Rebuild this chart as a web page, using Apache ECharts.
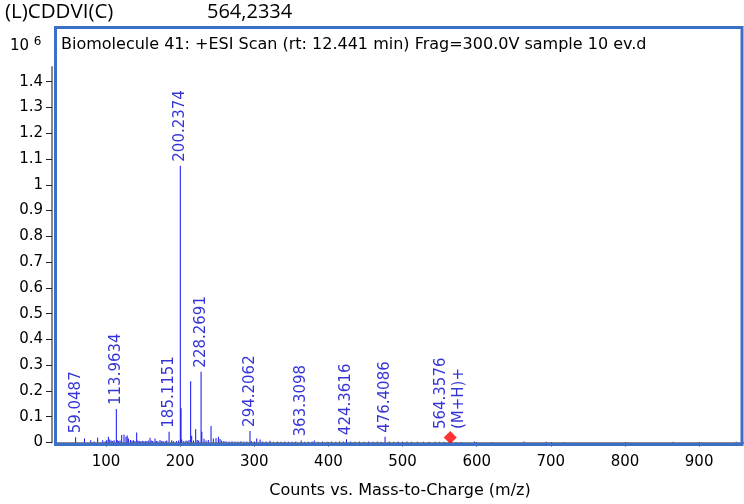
<!DOCTYPE html>
<html>
<head>
<meta charset="utf-8">
<script src="https://cdn.jsdelivr.net/npm/echarts@6/dist/echarts.min.js"></script>
<style>
html,body{margin:0;padding:0;background:#fff;}
#chart{width:744px;height:504px;}
</style>
</head>
<body>
<div id="chart"></div>
<script>
// ---- data (intensity in units of 10^6 counts) ----
const peakMz = [59.05,71.0,79.4,84,88.8,95.6,99,101.1,103.2,105.1,107,109.1,111,113.9634,115.1,117,119,121.2,124.3,127,128.6,130.2,133,135,137,139,141.4,143,145,147,149,151,153,155,157,159.4,161,163,166.1,168,170,172.9,175,177,180,182,185.1151,188.7,191,195,198,200.2374,201.24,202.2,205,208,210,212,214.2,215.6,218,221,223,225,228.2691,229.27,232.2,235,238,241.7,244.8,248.4,251.6,253.8,256,259,262,266,270,274,278,282,286,290,294.2062,296,300,303.3,307.8,311,316,321.2,326,331,336,341,346,351,356,363.3098,368,373,378,381,386,392,398,404,410,415,420,424.3616,430,436,442,448,454,460,466,471,476.4086,482,488,494,500,506,512,520,528,536,544,550,556,564.3576,572,580,597,620,664,694,718,865,950];
const peakIntensity = [0.020,0.016,0.009,0.004,0.018,0.009,0.005,0.010,0.022,0.012,0.008,0.006,0.009,0.130,0.010,0.006,0.008,0.029,0.031,0.022,0.027,0.016,0.010,0.007,0.009,0.006,0.039,0.008,0.006,0.005,0.007,0.005,0.006,0.005,0.008,0.018,0.008,0.006,0.016,0.006,0.005,0.010,0.005,0.006,0.005,0.008,0.042,0.009,0.005,0.006,0.008,1.074,0.133,0.012,0.006,0.008,0.005,0.010,0.238,0.026,0.008,0.052,0.010,0.008,0.275,0.042,0.015,0.008,0.010,0.064,0.016,0.017,0.022,0.014,0.008,0.006,0.005,0.004,0.005,0.004,0.004,0.005,0.004,0.004,0.045,0.006,0.004,0.016,0.012,0.004,0.004,0.007,0.003,0.004,0.003,0.004,0.003,0.003,0.004,0.008,0.003,0.003,0.004,0.008,0.003,0.004,0.003,0.004,0.003,0.004,0.004,0.013,0.004,0.003,0.004,0.003,0.004,0.003,0.004,0.003,0.022,0.004,0.003,0.004,0.003,0.004,0.003,0.003,0.003,0.003,0.003,0.003,0.003,0.004,0.002,0.002,0.004,0.002,0.004,0.003,0.002,0.003,0.003];

const labelMz = [59.0487,113.9634,185.1151,200.2374,228.2691,294.2062,363.3098,424.3616,476.4086];
const labelIntensity = [0.020,0.130,0.042,1.074,0.275,0.045,0.008,0.013,0.022];
const labelText = ["59.0487","113.9634","185.1151","200.2374","228.2691","294.2062","363.3098","424.3616","476.4086"];

const precursorMz = [564.3576];
const precursorMarkerY = [0.019];
const precursorText = ["564.3576\n(M+H)+"];

const xTicks = [100,200,300,400,500,600,700,800,900];
const yTicks = [0,0.1,0.2,0.3,0.4,0.5,0.6,0.7,0.8,0.9,1,1.1,1.2,1.3,1.4];

const compoundName = "(L)CDDVI(C)";
const compoundMass = "564,2334";
const scanTitle = "Biomolecule 41: +ESI Scan (rt: 12.441 min) Frag=300.0V sample 10 ev.d";
const xName = "Counts vs. Mass-to-Charge (m/z)";

// ---- chart ----
const chart = echarts.init(document.getElementById('chart'), null, {renderer:'canvas'});
const FONT = 'DejaVu Sans';
const labelColor = '#0000cc';

const option = {
  animation: false,
  backgroundColor: '#fff',
  grid: {left: 56, right: 0, top: 67, bottom: 61.5, containLabel: false},
  xAxis: {
    type: 'value',
    min: 32.6, max: 960.5,
    offset: 7,
    axisLine: {show: true, lineStyle: {color: '#8a8a8a', width: 2}},
    axisTick: {show: true, length: 4, lineStyle: {color: '#222', width: 1}, customValues: xTicks},
    axisLabel: {show: true, customValues: xTicks, color: '#000', fontFamily: FONT, fontSize: 15, margin: 5},
    splitLine: {show: false},
    name: xName, nameLocation: 'middle', nameGap: 33,
    nameTextStyle: {color: '#000', fontFamily: FONT, fontSize: 16}
  },
  yAxis: {
    type: 'value',
    min: 0, max: 1.457,
    offset: 4,
    axisLine: {show: true, lineStyle: {color: '#8a8a8a', width: 2}},
    axisTick: {show: true, length: 6, lineStyle: {color: '#222', width: 1}, customValues: yTicks},
    axisLabel: {show: true, customValues: yTicks, color: '#000', fontFamily: FONT, fontSize: 15, margin: 9,
      formatter: v => String(v)},
    splitLine: {show: false}
  },
  series: [
    {
      type: 'bar',
      data: peakMz.map((m, i) => [m, peakIntensity[i]]),
      barWidth: 1,
      itemStyle: {color: '#1010f0'},
      silent: true
    },
    {
      type: 'scatter',
      data: labelMz.map((m, i) => ({value: [m, labelIntensity[i]], name: labelText[i]})),
      symbolSize: 0,
      label: {
        show: true, position: 'top', distance: 4, rotate: 90,
        align: 'left', verticalAlign: 'middle',
        formatter: p => p.name,
        color: labelColor, fontFamily: FONT, fontSize: 15
      },
      silent: true
    },
    {
      type: 'scatter',
      data: precursorMz.map((m, i) => ({value: [m, precursorMarkerY[i]], name: precursorText[i]})),
      symbol: 'diamond',
      symbolSize: 13,
      itemStyle: {color: '#ff0000'},
      label: {
        show: true, position: 'top', distance: 2, rotate: 90,
        align: 'left', verticalAlign: 'middle',
        formatter: p => p.name, lineHeight: 18,
        color: labelColor, fontFamily: FONT, fontSize: 15
      },
      silent: true,
      z: 5
    }
  ],
  graphic: [
    {type: 'text', left: 5, top: 2, style: {text: compoundName, font: '20.5px "Open Sans"', fill: '#000'}},
    {type: 'text', left: 207, top: 2, style: {text: compoundMass, font: '20px "Open Sans"', fill: '#000'}},
    {type: 'text', left: 10, top: 36, style: {
      text: '10 {s|6}', fill: '#000', fontFamily: FONT, fontSize: 15,
      rich: {s: {fontSize: 12, verticalAlign: 'top', padding: [0,0,8,0], fontFamily: FONT}}
    }},
    {type: 'rect', shape: {x: 55.5, y: 27.5, width: 686.5, height: 417}, style: {fill: 'none', stroke: '#3c70c8', lineWidth: 3}, z: 10, silent: true},
    {type: 'text', left: 61, top: 37, style: {text: scanTitle, font: '16px "DejaVu Sans"', fill: '#000'}, z: 11}
  ]
};
chart.setOption(option);
</script>
</body>
</html>
